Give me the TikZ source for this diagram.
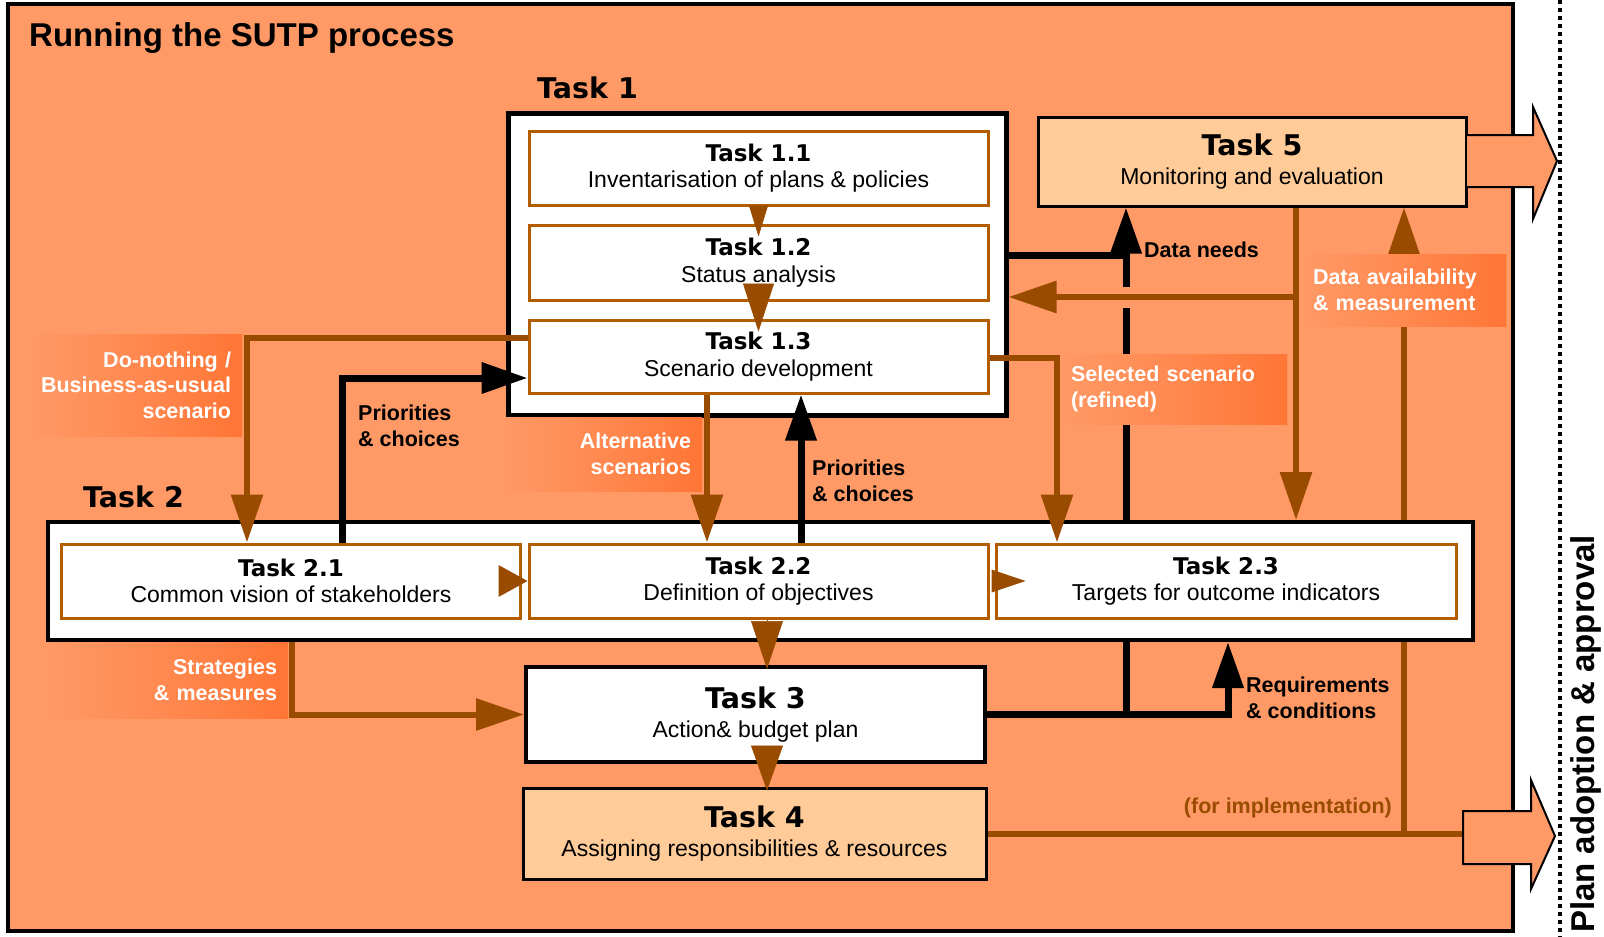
\documentclass[tikz,border=0pt]{standalone}
\usepackage{fontspec}
\setmainfont{Liberation Sans}
\newfontfamily\tfont{DejaVu Sans}
\usepackage{tikz}
\usepgflibrary{arrows.meta}
\definecolor{bgor}{HTML}{FF9966}
\definecolor{deepor}{HTML}{FF7535}
\definecolor{brn}{HTML}{994C00}
\definecolor{subbrn}{HTML}{B35C00}
\definecolor{peach}{HTML}{FFCC99}
\pgfdeclarelayer{back}
\pgfdeclarelayer{wires}
\pgfsetlayers{back,wires,main}
\tikzstyle{barr}=[draw=brn,line width=6pt,-{Triangle[length=48pt,width=31pt]}]
\tikzstyle{bline}=[draw=brn,line width=6pt]
\tikzstyle{karr}=[draw=black,line width=7pt,-{Triangle[length=46pt,width=30pt]}]
\tikzstyle{kline}=[draw=black,line width=7pt]
\tikzstyle{tip}=[draw=brn,line width=0.5pt]
\tikzstyle{sub}=[draw=subbrn,line width=3pt,fill=white,minimum width=459pt,minimum height=74pt,inner sep=0pt,align=center,font=\fontsize{23}{26.5}\selectfont]
\tikzstyle{big}=[draw=black,line width=3.5pt,fill=white,inner sep=0pt,align=center,font=\fontsize{23}{28.5}\selectfont]
\tikzstyle{tag}=[left color=bgor,right color=deepor,middle color=bgor!55!deepor,text=white,inner ysep=0pt,inner xsep=11pt,font=\bfseries\fontsize{21.5}{25.5}\selectfont]
\tikzstyle{note}=[inner sep=0pt,align=left,font=\bfseries\fontsize{21.5}{25.5}\selectfont]
\tikzstyle{hdr}=[inner sep=0pt,anchor=base west,font=\tfont\bfseries\fontsize{28.5}{28.5}\selectfont]
\def\tk#1#2{{\tfont\bfseries #1}\\#2}
\def\bt#1#2{{\tfont\bfseries\fontsize{28.5}{28.5}\selectfont #1}\\#2}

\begin{document}
\begin{tikzpicture}[x=1pt,y=-1pt]
\useasboundingbox (0,0) rectangle (1604,937);
\begin{pgfonlayer}{back}
\draw[fill=bgor,line width=4pt] (8,4) rectangle (1513,931);
\end{pgfonlayer}
\node[anchor=base west,inner sep=0pt,font=\bfseries\fontsize{33}{33}\selectfont] (ttl) at (29,46) {Running the SUTP process};

% task 1 and task 5
\node[hdr] (lt1) at (537,98) {Task 1};
\node[big,line width=5pt,minimum width=498pt,minimum height=302pt] (t1) at (757,264) {};
\node[sub] (t11) at (758.5,168) {\tk{Task 1.1}{Inventarisation of plans \& policies}};
\node[sub,minimum height=75pt] (t12) at (758.5,262.5) {\tk{Task 1.2}{Status analysis}};
\node[sub,minimum height=73pt] (t13) at (758.5,356.5) {\tk{Task 1.3}{Scenario development}};
\node[big,line width=3pt,fill=peach,minimum width=428pt,minimum height=89pt] (t5) at (1252,161.5) {\bt{Task 5}{Monitoring and evaluation}};

% task 2
\node[hdr] (lt2) at (83,507) {Task 2};
\node[big,line width=4pt,minimum width=1425pt,minimum height=118pt] (t2) at (760.5,581) {};
\node[sub] (t21) at (291,581) {\tk{Task 2.1}{Common vision of stakeholders}};
\node[sub] (t22) at (758.5,581) {\tk{Task 2.2}{Definition of objectives}};
\node[sub,minimum width=460pt] (t23) at (1226,581) {\tk{Task 2.3}{Targets for outcome indicators}};

% task 3 and task 4
\node[big,line width=4pt,minimum width=459pt,minimum height=95pt] (t3) at (755.5,714.5) {\bt{Task 3}{Action\& budget plan}};
\node[big,line width=3pt,fill=peach,minimum width=463pt,minimum height=91pt] (t4) at (754.5,833.5) {\bt{Task 4}{Assigning responsibilities \& resources}};

\coordinate (dn) at (1126,255);
\coordinate (rq) at (1228,0);
\coordinate (pc) at (342,378);
\coordinate (do) at (247,338);
\coordinate (ss) at (1057,358);
\coordinate (da) at (1296,297);
\coordinate (dm) at (1404,0);
\coordinate (st) at (292,0);
\coordinate (ax) at (767,0);
\coordinate (px) at (801,0);
\coordinate (as) at (707,0);
\coordinate (out) at (1463,0);

% lines running under the boxes
\begin{pgfonlayer}{wires}
\draw[kline] (dn) -- (dn |- t3.east);
\draw[barr] (dm |- t4.east) -- (dm |- t5.south);
\end{pgfonlayer}

% arrows inside the task boxes
\draw[tip,-{Triangle[length=31pt,width=19pt]},shorten >=-13pt] (t11.south) -- (t12.north);
\draw[tip,-{Triangle[length=48pt,width=31pt]},shorten <=-19pt,shorten >=-13pt] (t12.south) -- (t13.north);
\fill[brn] (t22.west) -- ++(-29,-16) -- ++(0,32) -- cycle;
\fill[brn] ([xshift=31pt]t23.west) -- ++(-34,-11.5) -- ++(0,23) -- cycle;
\draw[tip,-{Triangle[length=48pt,width=32pt]},shorten >=-4pt] (t22.south -| ax) -- (t3.north -| ax);
\draw[tip,-{Triangle[length=45pt,width=32pt]},shorten <=-20pt,shorten >=-4pt] (t3.south -| ax) -- (t4.north -| ax);

% connectors
\draw[barr] (t13.west |- do) -- (do) -- (do |- t21.north);
\draw[karr] (pc |- t21.north) -- (pc) -- (pc -| t13.west);
\draw[barr] (as |- t13.south) -- (as |- t22.north);
\draw[karr] (px |- t22.north) -- (px |- t13.south);
\draw[barr] (t13.east |- ss) -- (ss) -- (ss |- t23.north);
\draw[karr] (t1.east |- dn) -- (dn) -- (dn |- t5.south);
\draw[karr] (t3.east) -- (rq |- t3.east) -- (rq |- t2.south);
\draw[barr,preaction={draw=bgor,line width=21pt,arrows=-}] (da) -- (da -| t1.east);
\draw[barr] (da |- t5.south) -- (da |- t2.north);
\draw[bline] (t4.east) -- (t4.east -| out);
\draw[barr] (st |- t2.south) -- (st |- t3.west) -- (t3.west);

% outgoing arrows
\draw[fill=bgor,line width=2pt] (1467,135) -- (1533,135) -- (1533,107) -- (1557,161) -- (1533,219) -- (1533,187) -- (1467,187);
\draw[fill=bgor,line width=2pt] (1463,811) -- (1531,811) -- (1531,780) -- (1555,836) -- (1531,889) -- (1531,864) -- (1463,864) -- cycle;
\draw[line width=4pt,dash pattern=on 4pt off 4pt] (1560,0) -- (1560,937);
\node[rotate=90,inner sep=0pt,font=\bfseries\fontsize{33}{33}\selectfont] (pad) at (1586,734) {Plan adoption \& approval};

% labels
\node[tag,minimum width=212pt,minimum height=102pt,text width=190pt,align=right] (g1) at (136,385) {Do-nothing /\\Business-as-usual\\scenario};
\node[tag,minimum width=201pt,minimum height=74pt,text width=179pt,align=right] (g2) at (601.5,454) {Alternative\\scenarios};
\node[tag,minimum width=227pt,minimum height=70pt,text width=205pt,align=left] (g3) at (1173.5,389) {Selected scenario\\(refined)};
\node[tag,minimum width=204pt,minimum height=72pt,text width=182pt,align=left] (g4) at (1404,290) {Data availability\\\& measurement};
\node[tag,minimum width=242pt,minimum height=76pt,text width=220pt,align=right] (g5) at (167,680) {Strategies\\\& measures};
\node[note,anchor=north west] (n1) at (358,405) {Priorities\\\& choices};
\node[note,anchor=north west] (n2) at (812,460) {Priorities\\\& choices};
\node[note,anchor=base west] (n3) at (1144,257) {Data needs};
\node[note,anchor=north west] (n4) at (1246,677) {Requirements\\\& conditions};
\node[note,anchor=base east,text=brn] (n5) at (1392,813) {(for implementation)};
\end{tikzpicture}
\end{document}
